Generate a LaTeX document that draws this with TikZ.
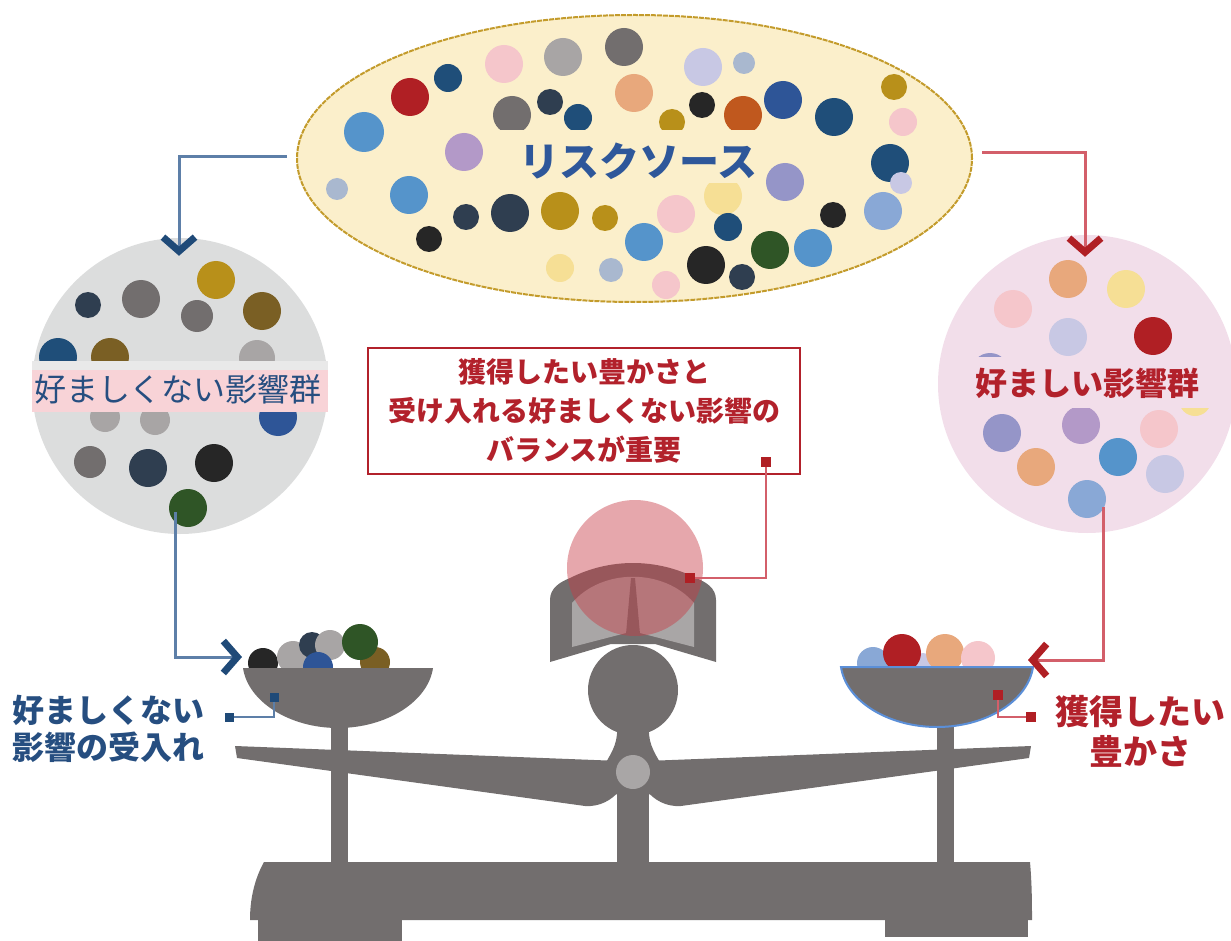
\documentclass[tikz,border=0pt]{standalone}
\usepackage{fontspec}
\newfontfamily\jp{Noto Sans CJK JP}
\usetikzlibrary{arrows.meta,shapes.geometric}

% palette
\definecolor{cream}{HTML}{FBEFCB}
\definecolor{goldline}{HTML}{C39B2B}
\definecolor{badbg}{HTML}{DCDDDD}
\definecolor{goodbg}{HTML}{F2DEEA}
\definecolor{bandpink}{HTML}{F8D3D7}
\definecolor{bandlight}{HTML}{E9E9E9}
\definecolor{txtblue}{HTML}{2E579A}
\definecolor{txtnavy}{HTML}{264E80}
\definecolor{txtred}{HTML}{B2212B}
\definecolor{lineblue}{HTML}{5D7FA8}
\definecolor{linered}{HTML}{D35F6A}
\definecolor{tipnavy}{HTML}{1F4A78}
\definecolor{tipred}{HTML}{B01F24}
\definecolor{body}{HTML}{726E6E}
\definecolor{bodylight}{HTML}{A9A6A6}
\definecolor{rimblue}{HTML}{5B8FD8}
\definecolor{weight}{HTML}{C83C46}
% dot colours
\definecolor{cRed}{HTML}{B01F24}
\definecolor{cNavy}{HTML}{1F4E79}
\definecolor{cPink}{HTML}{F5C6CB}
\definecolor{cLgray}{HTML}{A8A5A5}
\definecolor{cDgray}{HTML}{726E6E}
\definecolor{cLav}{HTML}{C8C8E4}
\definecolor{cLbg}{HTML}{A9B8CF}
\definecolor{cPeach}{HTML}{E8A87C}
\definecolor{cBlack}{HTML}{262626}
\definecolor{cOrange}{HTML}{C0581E}
\definecolor{cBlue}{HTML}{2E5597}
\definecolor{cGold}{HTML}{B8901A}
\definecolor{cSky}{HTML}{5594CB}
\definecolor{cPurple}{HTML}{B399C8}
\definecolor{cSlate}{HTML}{2F3E50}
\definecolor{cLyellow}{HTML}{F6DF95}
\definecolor{cPeri}{HTML}{9595C8}
\definecolor{cLblue}{HTML}{89A8D6}
\definecolor{cGreen}{HTML}{2F5526}
\definecolor{cOlive}{HTML}{7A5F24}

\tikzset{
  jpfont/.style={font=\jp\bfseries\fontsize{#1pt}{#1pt}\selectfont},
  jpregular/.style={font=\jp\fontsize{#1pt}{#1pt}\selectfont},
  conblue/.style={draw=lineblue, line width=3pt,
    -{Straight Barb[length=14pt,width=32pt,line width=7pt 0 0,color=tipnavy]}},
  conred/.style={draw=linered, line width=3pt,
    -{Straight Barb[length=14pt,width=32pt,line width=7pt 0 0,color=tipred]}},
  leadblue/.style={draw=lineblue, line width=2pt},
  leadred/.style={draw=linered, line width=2pt},
  sqblue/.style={fill=tipnavy, minimum size=9pt, inner sep=0pt},
  sqred/.style={fill=tipred, minimum size=10pt, inner sep=0pt},
  disc/.style={circle, inner sep=0pt, minimum size=#1},
}

\begin{document}
\begin{tikzpicture}[x=1pt,y=-1pt]
\useasboundingbox (0,0) rectangle (1231,941);

% ---------- risk source ellipse ----------
\node[ellipse, draw=goldline, fill=cream, line width=2pt,
      dash pattern=on 5pt off 1pt, minimum width=675pt, minimum height=287pt,
      inner sep=0pt] (src) at (634.5,158.5) {};
\foreach \px/\py/\pr/\pc in {
  410/97/19/cRed, 448/78/14/cNavy, 504/64/19/cPink, 563/57/19/cLgray,
  624/47/19/cDgray, 703/67/19/cLav, 744/63/11/cLbg, 634/93/19/cPeach,
  702/105/13/cBlack, 743/115/19/cOrange, 783/100/19/cBlue, 834/117/19/cNavy,
  894/87/13/cGold, 903/122/14/cPink, 364/132/20/cSky, 464/152/19/cPurple,
  512/115/19/cDgray, 550/102/13/cSlate, 578/118/14/cNavy, 672/122/13/cGold,
  337/189/11/cLbg, 409/195/19/cSky, 466/217/13/cSlate, 510/213/19/cSlate,
  560/211/19/cGold, 605/218/13/cGold, 429/239/13/cBlack, 644/242/19/cSky,
  676/214/19/cPink, 723/196/19/cLyellow, 728/227/14/cNavy, 785/182/19/cPeri,
  890/163/19/cNavy, 901/183/11/cLav, 883/211/19/cLblue, 833/215/13/cBlack,
  560/268/14/cLyellow, 611/270/12/cLbg, 666/285/14/cPink, 706/265/19/cBlack,
  742/277/13/cSlate, 770/250/19/cGreen, 813/248/19/cSky}
  {\fill[\pc] (\px,\py) circle (\pr pt);}
\fill[cream] (490,130) rectangle (762,183);
\node[jpfont=40, text=txtblue, inner sep=0pt] (srctext) at (638,161) {リスクソース};

% ---------- unfavourable impacts ----------
\node[circle, fill=badbg, minimum size=296pt, inner sep=0pt] (bad) at (180,386) {};
\foreach \px/\py/\pr/\pc in {
  88/305/13/cSlate, 141/299/19/cDgray, 216/280/19/cGold, 197/316/16/cDgray,
  262/311/19/cOlive, 58/357/19/cNavy, 110/357/19/cOlive, 183/376/15/cGreen,
  257/358/18/cLgray, 105/417/15/cLgray, 155/420/15/cLgray, 278/417/19/cBlue,
  90/462/16/cDgray, 148/468/19/cSlate, 214/463/19/cBlack}
  {\fill[\pc] (\px,\py) circle (\pr pt);}
\node[disc=38pt, fill=cGreen] (gdot) at (188,508) {};
\fill[bandlight] (32,361) rectangle (328,371);
\fill[bandpink] (32,370) rectangle (328,412);
\node[jpregular=32, text=txtnavy, inner sep=0pt] (badtext) at (178,389) {好ましくない影響群};

% ---------- favourable impacts ----------
\node[circle, fill=goodbg, minimum size=298pt, inner sep=0pt] (good) at (1087,384) {};
\foreach \px/\py/\pr/\pc in {
  1068/279/19/cPeach, 1126/289/19/cLyellow, 1013/309/19/cPink,
  1068/337/19/cLav, 1153/336/19/cRed, 990/372/19/cPeri, 1195/400/16/cLyellow,
  1002/433/19/cPeri, 1081/425/19/cPurple, 1159/429/19/cPink,
  1118/457/19/cSky, 1036/467/19/cPeach, 1165/474/19/cLav}
  {\fill[\pc] (\px,\py) circle (\pr pt);}
\node[disc=38pt, fill=cLblue] (bdot) at (1087,499) {};
\fill[goodbg] (970,357) rectangle (1212,408);
\node[jpfont=32, text=txtred, inner sep=0pt] (goodtext) at (1087,383) {好ましい影響群};

% ---------- balance ----------
% base and feet
\fill[body] (264,862) -- (1030,862) .. controls (1032,885) and (1032,905) .. (1032,920)
  -- (250,920) .. controls (250,900) and (254,880) .. (264,862) -- cycle;
\fill[body] (258,918) rectangle (402,941);
\fill[body] (885,918) rectangle (1028,937);
% posts
\fill[body] (331,700) rectangle (348,865);
\fill[body] (937,700) rectangle (954,865);
\fill[body] (617,780) rectangle (649,865);
% beam
\fill[body] (235,746) -- (620,761) -- (620,790) .. controls (612,800) and (600,807) .. (585,806)
  -- (237,758) -- cycle;
\fill[body] (1031,746) -- (646,761) -- (646,790) .. controls (654,800) and (666,807) .. (681,806)
  -- (1029,758) -- cycle;
% neck, ball and pivot
\fill[body] (616,722) .. controls (620,740) and (612,752) .. (605,764) -- (661,764)
  .. controls (654,752) and (646,740) .. (650,722) -- cycle;
\fill[body] (633,690) circle (45pt);
\fill[body] (633,773) circle (27pt);
\node[disc=34pt, fill=bodylight] (pivot) at (633,772) {};
% holder
\fill[body] (550,662) -- (550,600) .. controls (550,588) and (560,582) .. (570,578)
  .. controls (610,558) and (656,558) .. (696,578) .. controls (706,582) and (716,588) .. (716,600)
  -- (716,662) -- (655,644) -- (611,644) -- cycle;
\fill[bodylight] (572,647) -- (572,603) .. controls (602,568) and (664,568) .. (694,603)
  -- (694,647) -- (640,633) -- (626,633) -- cycle;
\fill[body] (631,578) -- (635,578) -- (640,634) -- (626,634) -- cycle;
% weight on the holder
\node[disc=136pt, fill=weight, fill opacity=0.45] (wt) at (635,568) {};

% left pan with its load
\foreach \px/\py/\pr/\pc in {
  375/662/15/cOlive, 263/663/15/cBlack, 293/657/16/cLgray, 312/645/13/cSlate,
  330/645/15/cLgray, 360/642/18/cGreen, 318/667/15/cBlue}
  {\fill[\pc] (\px,\py) circle (\pr pt);}
\fill[body] (243,668) .. controls (248,702) and (290,728) .. (338,728)
  .. controls (386,728) and (428,702) .. (433,668) -- cycle;
\coordinate (lpan) at (338,668);

% right pan with its load
\foreach \px/\py/\pr/\pc in {
  873/663/16/cLblue, 923/663/10/cLav, 902/653/19/cRed, 945/653/19/cPeach, 978/658/17/cPink}
  {\fill[\pc] (\px,\py) circle (\pr pt);}
\filldraw[fill=body, draw=rimblue, line width=2pt] (841,667) .. controls (846,701) and (888,727) .. (937,727)
  .. controls (986,727) and (1028,701) .. (1033,667) -- cycle;
\coordinate (rpan) at (937,667);

% ---------- callout ----------
\node[draw=txtred, line width=2pt, minimum width=432pt, minimum height=126pt,
      align=center, text=txtred, font=\jp\bfseries\fontsize{28pt}{39pt}\selectfont]
  (note) at (584,411) {獲得したい豊かさと\\受け入れる好ましくない影響の\\バランスが重要};
\node[sqred] (nsq) at (766,462) {};
\node[sqred] (wsq) at (690,578) {};
\draw[leadred] (nsq) |- (wsq);

% ---------- connectors ----------
\coordinate (bout) at (175,512);
\coordinate (lpin) at (242,657);
\coordinate (gout) at (1103,507);
\coordinate (rpin) at (1028,660);
\draw[conblue] ([xshift=-9pt,yshift=1.5pt]src.west) -| ([xshift=-1pt,yshift=-18pt]bad.north);
\draw[conred] ([xshift=9pt,yshift=5.5pt]src.east) -| ([xshift=-2pt,yshift=-22pt]good.north);
\draw[conblue] (bout) |- (lpin);
\draw[conred] (gout) |- (rpin);

% ---------- pan labels ----------
\node[sqblue] (lsq1) at (274,697) {};
\node[sqblue] (lsq2) at (229,717) {};
\draw[leadblue] (lsq1) |- (lsq2);
\node[text=txtnavy, align=left, anchor=north west, inner sep=0pt,
      font=\jp\bfseries\fontsize{32pt}{37pt}\selectfont] (ltext) at (12,695)
  {好ましくない\\影響の受入れ};
\node[sqred] (rsq1) at (998,695) {};
\node[sqred] (rsq2) at (1031,717) {};
\draw[leadred] (rsq1) |- (rsq2);
\node[text=txtred, align=center, anchor=north, inner sep=0pt,
      font=\jp\bfseries\fontsize{34pt}{40pt}\selectfont] (rtext) at (1140,695)
  {獲得したい\\豊かさ};
\end{tikzpicture}
\end{document}
